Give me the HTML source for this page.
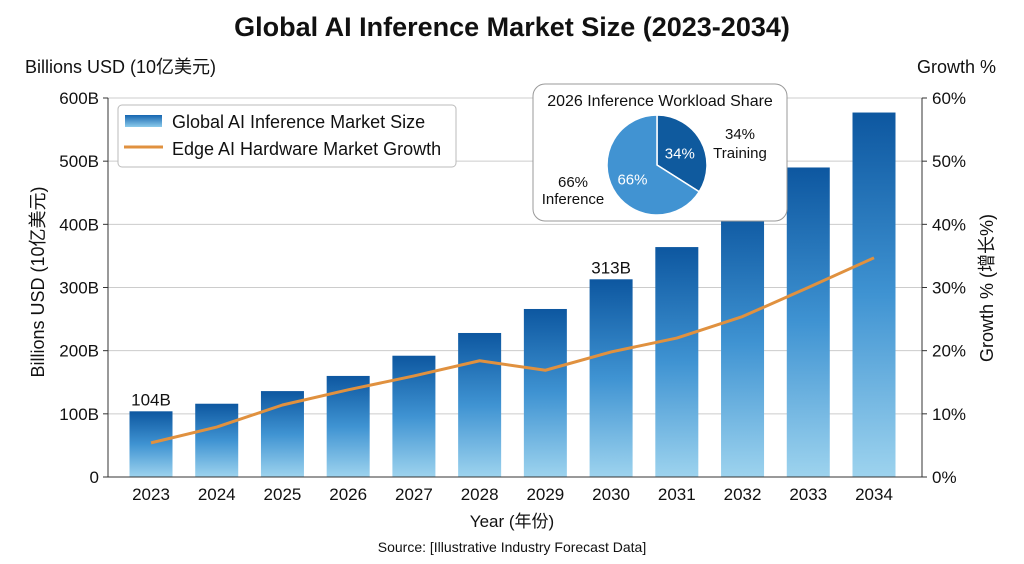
<!DOCTYPE html>
<html><head><meta charset="utf-8"><style>
body{margin:0;background:#fff;}
svg text{font-family:"Liberation Sans","Noto Sans CJK SC",sans-serif;}
</style></head><body>
<svg id="c" width="1024" height="559" viewBox="0 0 1024 559" xmlns="http://www.w3.org/2000/svg">
<defs>
<linearGradient id="bg" x1="0" y1="0" x2="0" y2="1">
<stop offset="0" stop-color="#0d57a0"/><stop offset="0.5" stop-color="#3f93d2"/><stop offset="1" stop-color="#9dd3ee"/>
</linearGradient>
<linearGradient id="lg" x1="0" y1="0" x2="0" y2="1">
<stop offset="0" stop-color="#1565b0"/><stop offset="1" stop-color="#8ccbeb"/>
</linearGradient>
</defs>
<text x="512" y="36" text-anchor="middle" font-size="27" font-weight="bold" fill="#111">Global AI Inference Market Size (2023-2034)</text>
<text x="25" y="73" font-size="18" fill="#111">Billions USD (10亿美元)</text>
<text x="996" y="73" text-anchor="end" font-size="18" fill="#111">Growth %</text>
<g id="grid"></g><g id="bars"></g><g id="line"></g><g id="axes"></g>
<text x="512" y="527" text-anchor="middle" font-size="17" fill="#111">Year (年份)</text>
<text x="512" y="552" text-anchor="middle" font-size="14" fill="#111">Source: [Illustrative Industry Forecast Data]</text>
<text transform="translate(44,282) rotate(-90)" text-anchor="middle" font-size="18" fill="#111">Billions USD (10亿美元)</text>
<text transform="translate(993,288) rotate(-90)" text-anchor="middle" font-size="18" fill="#111">Growth % (增长%)</text>
<g>
<rect x="118" y="105" width="338" height="62" rx="4" fill="#fff" stroke="#bbb"/>
<rect x="125" y="115" width="37" height="12" fill="url(#lg)"/>
<text x="172" y="128" font-size="18" fill="#111">Global AI Inference Market Size</text>
<line x1="124" y1="147" x2="163" y2="147" stroke="#e0913f" stroke-width="3"/>
<text x="172" y="155" font-size="18" fill="#111">Edge AI Hardware Market Growth</text>
</g>
<g>
<rect x="533" y="84" width="254" height="137" rx="12" fill="#fff" stroke="#999"/>
<text x="660" y="106" text-anchor="middle" font-size="16" fill="#111">2026 Inference Workload Share</text>
<g id="pie"></g>
<text x="740" y="139" text-anchor="middle" font-size="15" fill="#111">34%</text>
<text x="740" y="158" text-anchor="middle" font-size="15" fill="#111">Training</text>
<text x="573" y="187" text-anchor="middle" font-size="15" fill="#111">66%</text>
<text x="573" y="204" text-anchor="middle" font-size="15" fill="#111">Inference</text>
</g>
</svg>
<script>
const years=["2023","2024","2025","2026","2027","2028","2029","2030","2031","2032","2033","2034"];
const marketSize=[104,116,136,160,192,228,266,313,364,425,490,577];
const growthPct=[5.4,7.9,11.4,13.8,16,18.4,16.9,19.8,22,25.4,30,34.7];
const leftTicks=[0,100,200,300,400,500,600];
const rightTicks=[0,10,20,30,40,50,60];
const pieShares=[34,66];
const pieLabels=["34%","66%"];
const NS="http://www.w3.org/2000/svg";
const X0=108,X1=922,Y0=477,Y1=98;
const yL=v=>Y0-(v/600)*(Y0-Y1);
const yR=v=>Y0-(v/60)*(Y0-Y1);
const xC=i=>151+i*((874-151)/(years.length-1));
function mk(t,a,p){const e=document.createElementNS(NS,t);for(const k in a)e.setAttribute(k,a[k]);p.appendChild(e);return e;}
const grid=document.getElementById('grid'),axes=document.getElementById('axes'),bars=document.getElementById('bars'),line=document.getElementById('line');
leftTicks.forEach((v,i)=>{
 const y=yL(v);
 const g=mk('line',{x1:X0,x2:X1,y1:y,y2:y,stroke:'#ccc','stroke-width':1},grid);
 
 
 mk('line',{x1:X0-5,x2:X0,y1:y,y2:y,stroke:'#333'},axes);
 const t=mk('text',{x:X0-9,y:y+6,'text-anchor':'end','font-size':17,fill:'#111'},axes);t.textContent=v===0?'0':v+'B';
 
 
});
rightTicks.forEach(v=>{
 const y=yR(v);
 mk('line',{x1:X1,x2:X1+5,y1:y,y2:y,stroke:'#333'},axes);
 const t=mk('text',{x:X1+10,y:y+6,'font-size':17,fill:'#111'},axes);t.textContent=v+'%';
 
 
});
mk('line',{x1:X0,x2:X0,y1:Y1,y2:Y0,stroke:'#333'},axes);
mk('line',{x1:X1,x2:X1,y1:Y1,y2:Y0,stroke:'#333'},axes);
mk('line',{x1:X0,x2:X1,y1:Y0,y2:Y0,stroke:'#333'},axes);
years.forEach((yr,i)=>{
 const x=xC(i),top=yL(marketSize[i]);
 const r=mk('rect',{x:x-21.5,y:top,width:43,height:Y0-top,fill:'url(#bg)'},bars);
 
 
 const t=mk('text',{x:x,y:500,'text-anchor':'middle','font-size':17,fill:'#111'},axes);t.textContent=yr;
 
 
});
[0,7].forEach(i=>{
 const t=mk('text',{x:xC(i),y:yL(marketSize[i])-6,'text-anchor':'middle','font-size':17,fill:'#111'},bars);
 t.textContent=marketSize[i]+'B';
 
 
});
const pl=mk('polyline',{points:growthPct.map((v,i)=>xC(i)+','+yR(v)).join(' '),fill:'none',stroke:'#e0913f','stroke-width':3,'stroke-linejoin':'round'},line);


const pie=document.getElementById('pie');const cx=657,cy=165,R=50;
const cols=['#0f5a9e','#4193d2'];let a0=-Math.PI/2;
pieShares.forEach((s,i)=>{
 const a1=a0+s/100*2*Math.PI;
 const large=(a1-a0)>Math.PI?1:0;
 const p=mk('path',{d:`M${cx},${cy} L${cx+R*Math.cos(a0)},${cy+R*Math.sin(a0)} A${R},${R} 0 ${large} 1 ${cx+R*Math.cos(a1)},${cy+R*Math.sin(a1)} Z`,fill:cols[i],stroke:'#fff','stroke-width':1.5},pie);
 
 
 const am=(a0+a1)/2,rr=i===0?26:28;
 const t=mk('text',{x:cx+rr*Math.cos(am),y:cy+rr*Math.sin(am)+6,'text-anchor':'middle','font-size':15,fill:'#fff'},pie);
 t.textContent=pieLabels[i];
 
 
 a0=a1;
});
</script>
</body></html>
